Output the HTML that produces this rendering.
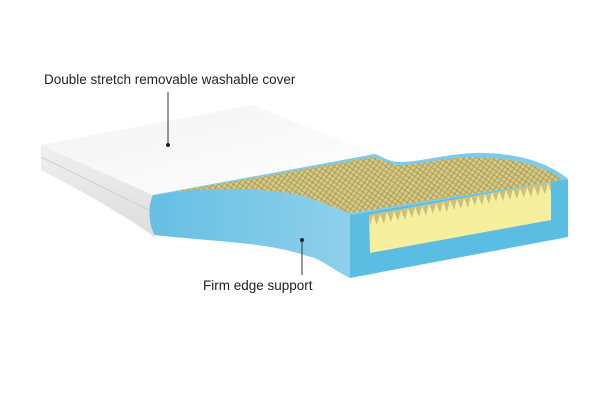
<!DOCTYPE html>
<html><head><style>
html,body{margin:0;padding:0;background:#fff;}
svg{display:block;}
text{font-family:"Liberation Sans",Arial,sans-serif;font-size:13.5px;fill:#222;}
</style></head><body>
<svg width="600" height="400" viewBox="0 0 600 400">
<defs>
<linearGradient id="cov" x1="0" y1="0" x2="1" y2="1">
<stop offset="0" stop-color="#f2f2f2"/><stop offset="1" stop-color="#ffffff"/>
</linearGradient>
<linearGradient id="side" x1="0" y1="0" x2="0" y2="1">
<stop offset="0" stop-color="#f0f0f0"/><stop offset="1" stop-color="#dcdcdc"/>
</linearGradient>
<linearGradient id="front" x1="0" y1="0" x2="1" y2="0">
<stop offset="0" stop-color="#66bfe4"/><stop offset="1" stop-color="#8ed0ea"/>
</linearGradient>
<pattern id="grid" width="6" height="6" patternUnits="userSpaceOnUse" patternTransform="rotate(-10)">
<rect width="6" height="6" fill="#d6c985"/>
<path d="M0 0L6 6M6 0L0 6" stroke="#a59a55" stroke-width="0.8"/>
</pattern>
</defs>
<!-- cover side -->
<path d="M41 145 L153 195 L155 238 C150 232 100 200 41 170 Z" fill="url(#side)"/>
<path d="M41 157 L153 212" stroke="#d0d0d0" stroke-width="1"/>
<!-- cover top -->
<path d="M41 145 L252 105 L375 154 L153 195 Z" fill="url(#cov)"/>
<!-- blue top rim -->
<path d="M375 154 C385 158 390 162 400 162 C420 162 440 155 473 153 C510 152 545 160 568 179 L350 215 C330 205 300 192 273 190 C240 188 210 188 153 195 Z" fill="#7dcbea"/>
<!-- grid surface -->
<path d="M173 192 C210 190 240 190 273 192 C300 194 330 206 350 213 L562 180 C545 166 515 158 473 157 C440 158 420 165 400 165 C390 165 383 160 373 157 Z" fill="url(#grid)"/>
<!-- front face -->
<path d="M153 195 C180 191 200 189 230 189 C260 189 290 192 307 197 C325 203 340 210 350 215 L350 278 C330 268 320 258 307 256 C290 250 270 246 240 243 C210 240 180 238 155 235 C148 225 148 205 153 195 Z" fill="url(#front)"/>
<!-- end face -->
<path d="M350 215 L568 179 L568 237 L350 278 Z" fill="#5cbde2"/>
<path d="M369 215 L551 182 L551 220 L370 253 Z" fill="#f6ef9e"/>
<!-- teeth -->
<path d="M369 215 L551 182 L551 192 L548 183 L545 194 L541 185 L538 196 L534 186 L531 197 L527 187 L524 198 L520 188 L517 199 L513 189 L510 200 L506 190 L503 201 L499 191 L496 202 L492 192 L489 204 L485 194 L482 205 L478 195 L475 206 L471 196 L468 208 L464 198 L461 209 L457 199 L454 210 L450 200 L447 212 L443 202 L440 213 L436 203 L433 214 L429 204 L426 216 L422 206 L419 217 L415 207 L412 218 L408 208 L405 220 L401 210 L398 221 L394 211 L391 222 L387 212 L384 224 L380 214 L377 225 L373 215 L370 226 Z" fill="#cdc07c"/>
<!-- labels -->
<text x="44" y="84">Double stretch removable washable cover</text>
<line x1="168" y1="92" x2="168" y2="145" stroke="#333" stroke-width="1"/>
<circle cx="168" cy="145" r="2" fill="#222"/>
<text x="203" y="290">Firm edge support</text>
<line x1="302" y1="240" x2="302" y2="275" stroke="#333" stroke-width="1"/>
<circle cx="302" cy="240" r="2" fill="#222"/>
</svg>
</body></html>
